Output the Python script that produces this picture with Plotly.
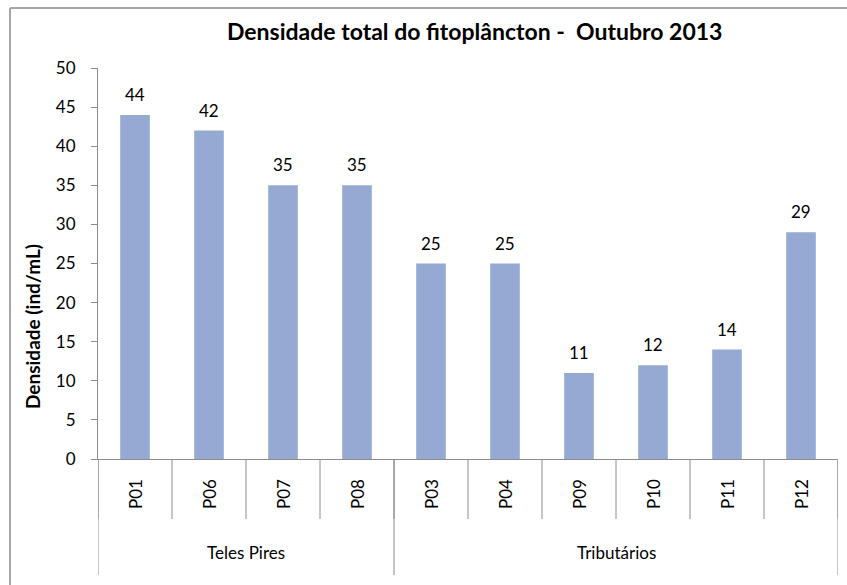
import plotly.graph_objects as go

# Phytoplankton density per sampling point, October 2013
points = ["P01", "P06", "P07", "P08", "P03", "P04", "P09", "P10", "P11", "P12"]
density = [44, 42, 35, 35, 25, 25, 11, 12, 14, 29]
groups = ["Teles Pires", "Tributários"]
group_sizes = [4, 6]
y_ticks = [0, 5, 10, 15, 20, 25, 30, 35, 40, 45, 50]

FONT = "Lato, Open Sans, sans-serif"
BAR = "#95A9D2"
AXIS = "#8c8c8c"

# plot area in pixels
L, R, T, B = 98, 838, 68, 459
PW, PH = R - L, B - T


def px(xp):
    return (xp - L) / PW


def py(yp):
    return (B - yp) / PH


x = list(range(len(points)))

fig = go.Figure()
fig.add_trace(go.Bar(
    x=x, y=density, width=0.4,
    marker=dict(color=BAR, line=dict(width=0)),
    hoverinfo="skip",
))

shapes = []
annotations = []

# Value labels above each bar
for i, v in enumerate(density):
    annotations.append(dict(x=i, y=v, xref="x", yref="y", text=str(v),
                            showarrow=False, yanchor="bottom", yshift=8,
                            font=dict(family=FONT, size=17, color="black")))

# Category separators below the axis
for i in range(len(points) + 1):
    shapes.append(dict(type="line", xref="x", yref="paper",
                       x0=i - 0.5, x1=i - 0.5, y0=0, y1=py(519),
                       line=dict(color=AXIS, width=1)))
# Group separators (longer)
edge = -0.5
shapes.append(dict(type="line", xref="x", yref="paper", x0=edge, x1=edge,
                   y0=0, y1=py(575), line=dict(color=AXIS, width=1)))
for size in group_sizes:
    edge += size
    shapes.append(dict(type="line", xref="x", yref="paper", x0=edge, x1=edge,
                       y0=0, y1=py(575), line=dict(color=AXIS, width=1)))

# Point labels, rotated
for i, p in enumerate(points):
    annotations.append(dict(x=i, y=py(494), xref="x", yref="paper", text=p,
                            textangle=-90, showarrow=False,
                            font=dict(family=FONT, size=17, color="black"),
                            xanchor="center", yanchor="middle"))
# Group labels
start = 0
for g, size in zip(groups, group_sizes):
    annotations.append(dict(x=start + (size - 1) / 2, y=py(552), xref="x", yref="paper",
                            text=g, showarrow=False,
                            font=dict(family=FONT, size=17, color="black"),
                            xanchor="center", yanchor="middle"))
    start += size

# Y axis title
annotations.append(dict(x=px(32), y=py(327), xref="paper", yref="paper",
                        text="<b>Densidade (ind/mL)</b>",
                        showarrow=False, textangle=-90,
                        font=dict(family=FONT, size=19, color="black"),
                        xanchor="center", yanchor="middle"))

# Title
annotations.append(dict(x=px(474), y=py(31), xref="paper", yref="paper",
                        text="<b>Densidade total do fitoplâncton -  Outubro 2013</b>",
                        showarrow=False, font=dict(family=FONT, size=23, color="black"),
                        xanchor="center", yanchor="middle"))

# Outer chart frame (left and top edges)
shapes.append(dict(type="line", xref="paper", yref="paper",
                   x0=px(10), x1=px(847), y0=py(8), y1=py(8),
                   line=dict(color="#a6a6a6", width=2)))
shapes.append(dict(type="line", xref="paper", yref="paper",
                   x0=px(10), x1=px(10), y0=py(8), y1=py(590),
                   line=dict(color="#a6a6a6", width=2)))

fig.update_layout(
    width=847, height=585,
    margin=dict(l=L, r=847 - R, t=T, b=585 - B),
    paper_bgcolor="white", plot_bgcolor="white",
    showlegend=False,
    shapes=shapes, annotations=annotations,
    xaxis=dict(range=[-0.5, len(points) - 0.5], showticklabels=False, ticks="",
               showgrid=False, zeroline=False, showline=True,
               linecolor=AXIS, linewidth=1),
    yaxis=dict(range=[0, 50], tickvals=y_ticks, ticks="outside", ticklen=6,
               tickcolor=AXIS, showgrid=False, zeroline=False, showline=True,
               linecolor=AXIS, linewidth=1, ticklabelstandoff=12,
               tickfont=dict(family=FONT, size=17, color="black")),
)

fig.write_html("out.html")
